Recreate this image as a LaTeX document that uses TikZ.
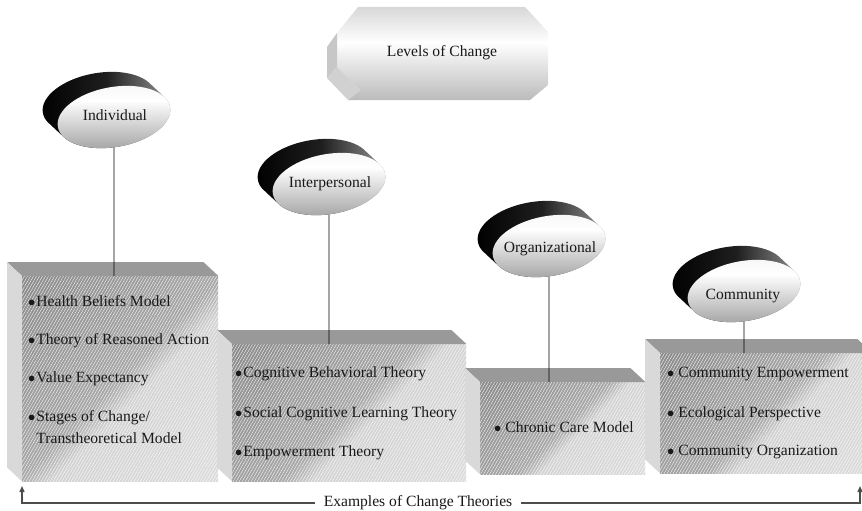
\documentclass[tikz,border=0pt]{standalone}
\usepackage{fontspec}
\setmainfont{Liberation Serif}
\usetikzlibrary{shapes.geometric, arrows.meta, patterns.meta}

\definecolor{topgray}{gray}{0.6}
\definecolor{sidegray}{gray}{0.85}
\definecolor{txt}{gray}{0.1}
\definecolor{fA}{gray}{0.88}
\definecolor{fB}{gray}{0.83}
\definecolor{fC}{gray}{0.66}
\definecolor{fD}{gray}{0.5}
\definecolor{dA}{gray}{0.5}
\definecolor{dB}{gray}{0.68}
\definecolor{dC}{gray}{0.93}
\definecolor{dD}{gray}{0.82}
\definecolor{cA}{gray}{0.52}
\definecolor{cB}{gray}{0.62}
\definecolor{cC}{gray}{0.82}
\definecolor{cD}{gray}{0.82}
\definecolor{cE}{gray}{0.6}

\pgfdeclareverticalshading{frontshade}{100bp}{color(0bp)=(fA); color(44bp)=(fB); color(50bp)=(fC); color(100bp)=(fD)}
\pgfdeclareverticalshading{discshade}{100bp}{color(0bp)=(dA); color(30bp)=(dB); color(62bp)=(white); color(85bp)=(dC); color(100bp)=(dD)}
\pgfdeclareverticalshading{capshade}{100bp}{color(0bp)=(cA); color(12bp)=(cB); color(35bp)=(cC); color(56bp)=(white); color(78bp)=(cD); color(100bp)=(cE)}

\newcommand\BulA{$\bullet$\hspace{1pt}}
\newcommand\BulB{$\bullet$\hspace{4pt}}

\newcommand\ThreeDBox[5]{%
  \node[frontface, anchor=north west, minimum width={(#4)-(#2)}, minimum height={(#5)-(#3)}] (#1) at (#2,#3) {};
  \fill[topface] (#1.north west) -- ++(-15,-14) -- ([shift={(-15,-14)}]#1.north east) -- (#1.north east) -- cycle;
  \fill[leftface] (#1.north west) -- ++(-15,-14) -- ([shift={(-15,-14)}]#1.south west) -- (#1.south west) -- cycle;
}

\newcommand\LevelDisc[3]{%
  \coordinate (#1c) at (#2,#3);
  \shade[discband] \foreach \k in {0,...,15} { ([shift={(-\k,{-14*\k/15})}]#1c) ellipse [x radius=57, y radius=30, rotate=10] };
  \node[discface] (#1) at (#1c) {};
}

\begin{document}
\begin{tikzpicture}[x=1pt,y=-1pt,
  every node/.style={text=txt, font=\fontsize{15.6pt}{18pt}\selectfont},
  frontface/.style={shade, shading=frontshade, shading angle=45, inner sep=0, draw=none,
    postaction={pattern={Lines[angle=60,distance=2.6pt,line width=0.35pt]}, pattern color=white, fill opacity=0.45}},
  topface/.style={fill=topgray},
  leftface/.style={fill=sidegray},
  discband/.style={left color=black, right color=black!40, middle color=black!88},
  discface/.style={ellipse, inner sep=0, minimum width=114pt, minimum height=60pt, rotate=10, shade, shading=discshade},
  disctext/.style={inner sep=0, text height=11pt, text depth=3pt},
  item/.style={anchor=west, inner sep=0, text height=11pt, text depth=3pt},
  conn/.style={draw=black, line width=0.9pt},
  base/.style={draw=black!70, line width=1.4pt},
]
\useasboundingbox (0,0) rectangle (862,511);
\clip (0,0) rectangle (862,511);

% title prism
\shade[shading=capshade] (358,7) -- (525,7) -- (548,32) -- (548,85) -- (530,100) -- (348,100) -- (360,90) -- (337,67) -- (337,33) -- cycle;
\fill[black!22] (337,33) -- (327,47) -- (327,78) -- (337,67) -- cycle;
\fill[black!18] (327,78) -- (337,67) -- (360,90) -- (348,100) -- cycle;
\node (loc) at (442,53) {Levels of Change};

% boxes
\ThreeDBox{indbox}{22}{276}{218}{481}
\ThreeDBox{intbox}{232}{344}{466}{481}
\ThreeDBox{orgbox}{480}{382}{645}{474}
\ThreeDBox{combox}{660}{353}{872}{473}

% items
\node[item] (i1) at (28,302) {\BulA Health Beliefs Model};
\node[item] (i2) at (28,340) {\BulA Theory of Reasoned Action};
\node[item] (i3) at (28,378) {\BulA Value Expectancy};
\node[item] (i4) at (28,417) {\BulA Stages of Change/};
\node[item] (i5) at (28,439) {\hphantom{\BulA}Transtheoretical Model};

\node[item] (j1) at (235,373) {\BulA Cognitive Behavioral Theory};
\node[item] (j2) at (235,413) {\BulA Social Cognitive Learning Theory};
\node[item] (j3) at (235,452) {\BulA Empowerment Theory};

\node[item] (k1) at (494,428) {\BulB Chronic Care Model};

\node[item] (m1) at (667,373) {\BulB Community Empowerment};
\node[item] (m2) at (667,413) {\BulB Ecological Perspective};
\node[item] (m3) at (667,451) {\BulB Community Organization};

% discs
\LevelDisc{ind}{114}{117}
\LevelDisc{int}{329}{184}
\LevelDisc{org}{549}{246}
\LevelDisc{com}{744}{291}

\node[disctext] (indt) at (115,117) {Individual};
\node[disctext] (intt) at (330,183) {Interpersonal};
\node[disctext] (orgt) at (550,248) {Organizational};
\node[disctext] (comt) at (743,295) {Community};

% connectors
\draw[conn] (ind) -- (ind |- indbox.north);
\draw[conn] (int) -- (int |- intbox.north);
\draw[conn] (org) -- (org |- orgbox.north);
\draw[conn] (com) -- (com |- combox.north);

% bottom axis
\node[fill=white, inner xsep=9pt, inner ysep=2pt] (ex) at (418,503) {Examples of Change Theories};
\coordinate (bl) at (22,503);
\coordinate (br) at (860,503);
\coordinate (blt) at (22,486);
\coordinate (brt) at (860,486);
\draw[base, -{Triangle[width=5pt,length=6pt]}] (ex.west) -- (bl) -- (blt);
\draw[base, -{Triangle[width=5pt,length=6pt]}] (ex.east) -- (br) -- (brt);
\end{tikzpicture}
\end{document}
